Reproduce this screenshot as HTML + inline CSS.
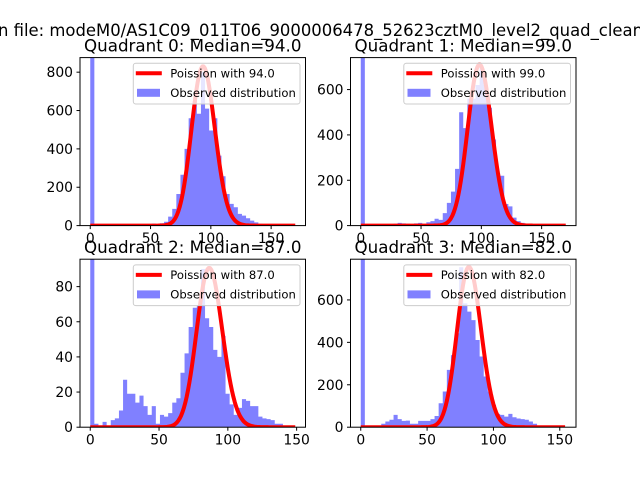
<!DOCTYPE html>
<html><head><meta charset="utf-8"><style>
body{margin:0;background:#fff}
svg{display:block;font-family:"DejaVu Sans","Liberation Sans",sans-serif}
</style></head><body>
<svg id="fig" width="640" height="480" viewBox="0 0 640 480">
<rect width="640" height="480" fill="#fff"/>
<text x="-2" y="36" font-size="16.7" textLength="645" lengthAdjust="spacingAndGlyphs">n file: modeM0/AS1C09_011T06_9000006478_52623cztM0_level2_quad_clean</text>
</svg>
<script>
const medians = [94, 99, 87, 82];
const peaks = [830, 710, 90.6, 755];
const binMax = [170, 170, 149, 154.5];
const yMax = [876, 741, 95.6, 792];
const yTicks = [[0,200,400,600,800],[0,200,400,600],[0,20,40,60,80],[0,200,400,600]];
const xTicks = [0, 50, 100, 150];
const q0Counts = [5000,0,0,0,0,0,0,0,0,0,5,3,3,5,4,10,8,12,20,47,87,165,265,400,560,650,583,800,610,496,560,365,257,165,113,96,61,52,38,26,17,9,3,2,0,0,0,0,0,0];
const q1Counts = [5000,0,0,0,0,0,0,0,8,12,10,8,6,10,12,8,15,20,30,25,55,100,150,250,500,430,560,560,620,700,620,520,380,230,220,95,85,35,20,12,8,4,0,0,0,0,0,0,0,0];
const q2Counts = [5000,2,1,3,1,4,5,9.5,27,19,19,14,18,12,7,12,2,7,6,8,14,16.5,31,42,57,68,69,90,62,57,44,40,52,19,13,7,11,16,15,12,12,6,5,4.6,4,2,2,0,0,0];
const q3Counts = [5000,0,0,0,8,16,27,35,58,38,30,31,16,16,30,30,30,38,53,113,168,270,340,443,754,584,545,505,411,333,239,168,105,63,58,50,63,47,41,38,35,27,16,0,0,0,0,0,0,0];
const allCounts = [q0Counts, q1Counts, q2Counts, q3Counts];

const NS = "http://www.w3.org/2000/svg";
const svg = document.getElementById('fig');
function mk(tag, attrs, parent){const e=document.createElementNS(NS,tag);for(const k in attrs)e.setAttribute(k,attrs[k]);(parent||svg).appendChild(e);return e;}
function lgamma(n){let s=0;for(let i=2;i<=n;i++)s+=Math.log(i);return s;}
function pois(k,l){return Math.exp(k*Math.log(l)-l-lgamma(k));}

const boxes=[[80,57.6],[350.5,57.6],[80,259.2],[350.5,259.2]];
const W=225.5,H=168;
for(let q=0;q<4;q++){
  const [L,T]=boxes[q];
  const xmin=-binMax[q]*0.05, xmaxv=binMax[q]*1.05;
  const sx=v=>L+(v-xmin)/(xmaxv-xmin)*W;
  const sy=v=>T+H-Math.min(v,yMax[q])/yMax[q]*H;
  const g=mk('g',{});
  
  
  const cid='clip'+q;
  const cp=mk('clipPath',{id:cid},g);mk('rect',{x:L,y:T,width:W,height:H},cp);
  const counts=allCounts[q];const bw=binMax[q]/counts.length;
  let bd='';
  counts.forEach((c,i)=>{
    if(c<=0)return;
    const x0=sx(i*bw),x1=sx((i+1)*bw),y0=sy(c),yb=sy(0);
    bd+='M'+x0.toFixed(2)+','+yb.toFixed(2)+'V'+y0.toFixed(2)+'H'+x1.toFixed(2)+'V'+yb.toFixed(2)+'Z';
  });
  const bars=mk('path',{d:bd,fill:'#8080ff','clip-path':'url(#'+cid+')'},g);
  
  
  const lam=medians[q];const scale=peaks[q]/pois(Math.floor(lam),lam);
  let d='';
  for(let k=0;k<=Math.floor(binMax[q]);k++){d+=(k?'L':'M')+sx(k).toFixed(2)+','+sy(pois(k,lam)*scale).toFixed(2);}
  const ln=mk('path',{d:d,fill:'none',stroke:'#ff0000','stroke-width':4,'stroke-linejoin':'round','clip-path':'url(#'+cid+')'},g);
  
  
  const fr=mk('rect',{x:L,y:T,width:W,height:H,fill:'none',stroke:'#000','stroke-width':1},g);
  
  
  xTicks.forEach(t=>{
    const x=sx(t);
    mk('line',{x1:x,x2:x,y1:T+H,y2:T+H+3.5,stroke:'#000'},g);
    const tx=mk('text',{x:x,y:T+H+17.5,'font-size':13.9,'text-anchor':'middle'},g);tx.textContent=t;
    
    
  });
  yTicks[q].forEach(t=>{
    const y=sy(t);
    mk('line',{x1:L-3.5,x2:L,y1:y,y2:y,stroke:'#000'},g);
    const tx=mk('text',{x:L-7,y:y+5,'font-size':13.9,'text-anchor':'end'},g);tx.textContent=t;
    
    
  });
  const ti=mk('text',{x:L+W/2,y:T-6,'font-size':16.7,'text-anchor':'middle'},g);
  ti.textContent='Quadrant '+q+': Median='+medians[q].toFixed(1);
  
  
  const lg=mk('g',{},g);
  
  
  const lx=L+W-5.5-166.7, ly=T+5.7;
  mk('rect',{x:lx,y:ly,width:166.7,height:40.7,rx:2.5,fill:'#fff','fill-opacity':0.8,stroke:'#ccc'},lg);
  mk('line',{x1:lx+2.5,x2:lx+28.5,y1:ly+10,y2:ly+10,stroke:'#ff0000','stroke-width':4},lg);
  const t1=mk('text',{x:lx+37,y:ly+14,'font-size':11.6},lg);t1.textContent='Poission with '+medians[q].toFixed(1);
  
  
  mk('rect',{x:lx+3.7,y:ly+25.5,width:23,height:8,fill:'#8080ff'},lg);
  const t2=mk('text',{x:lx+37,y:ly+33.5,'font-size':11.6},lg);t2.textContent='Observed distribution';
  
  
}
</script>
</body></html>
